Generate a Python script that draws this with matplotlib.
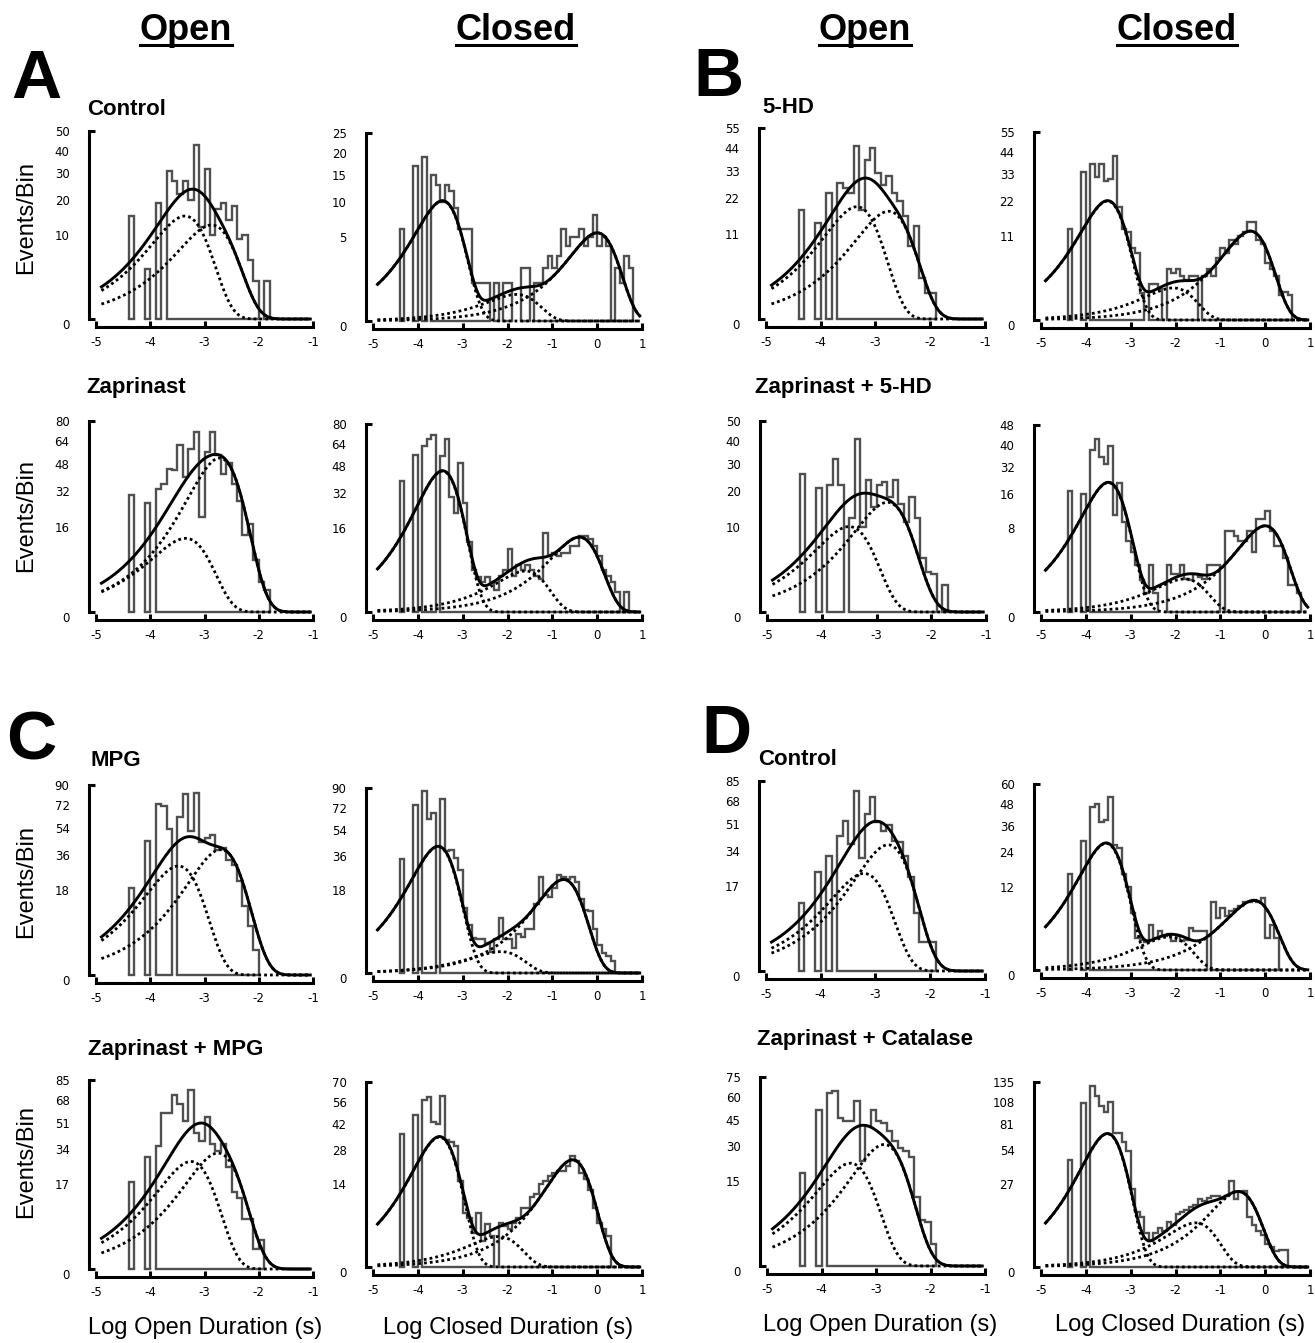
import numpy as np
import matplotlib.pyplot as plt
from matplotlib.lines import Line2D
from matplotlib.ticker import FixedLocator
from matplotlib.transforms import IdentityTransform

plt.rcParams['font.family'] = ['DejaVu Sans']
plt.rcParams['axes.unicode_minus'] = False

# histograms: 0.1 log-unit bins starting at log10(t) = -4.4
bin_start = -4.4
bin_width = 0.1

# fitted components: log10(tau) and peak height (events/bin) of each exponential
# ---- A: Control ----
a_ctrl_open = [15, 0, 0, 3.5, 0, 19, 0, 31, 27, 22, 27, 20, 43, 12, 32, 10, 17, 19, 14, 18,
               9, 10, 5, 2, 0, 2]
a_ctrl_open_tau = [-3.36, -2.87]
a_ctrl_open_peak = [15, 12.5]
a_ctrl_closed = [6, 0, 0, 17, 0, 19, 0, 15, 13, 10, 13, 12, 9, 6, 6, 6, 1, 1, 1, 1,
                 0, 1, 0, 1, 1, 0, 0, 2, 2, 0, 1, 1, 2, 3, 2, 3, 6, 4, 5, 5,
                 6, 4, 5, 8, 4, 5, 4, 0, 2, 1, 3, 2]
a_ctrl_closed_tau = [-3.45, -1.8, 0.0]
a_ctrl_closed_peak = [10.2, 0.5, 5.5]

# ---- A: Zaprinast ----
a_zap_open = [30, 0, 0, 26, 0, 33, 36, 45, 44, 61, 40, 58, 71, 20, 56, 71, 54, 42, 49, 36,
              27, 13, 17, 6, 2, 1.1]
a_zap_open_tau = [-3.35, -2.72]
a_zap_open_peak = [11.9, 52.0]
a_zap_closed = [39, 0, 0, 56, 0, 62, 68, 71, 0, 55, 68, 30, 22, 50, 27, 11, 4, 2.7, 2, 2.8,
                2, 1.1, 3, 4, 9, 3, 5, 4, 5, 4, 3, 2.5, 14, 7, 8, 7, 8, 8, 10, 10,
                13, 13, 12, 10, 7, 4, 3, 2, 0.9, 0, 0.9]
a_zap_closed_tau = [-3.45, -1.6, -0.4]
a_zap_closed_peak = [45, 3.8, 12.7]

# ---- B: 5-HD ----
b_hd_open = [18, 0, 0, 14, 0, 24, 0, 28, 26, 24, 45, 18, 38, 44, 32, 27, 31, 24, 21, 16,
             8, 13, 2.5, 1, 1]
b_hd_open_tau = [-3.34, -2.76]
b_hd_open_peak = [19, 17.5]
b_hd_closed = [13, 0, 0, 34, 0, 38, 32, 38, 30, 31, 42, 20, 13, 12, 8, 7, 1.1, 0, 2, 2,
               1.5, 0, 4, 3.5, 4, 3, 2.5, 3, 3, 0, 3, 4, 3, 6, 8, 7, 10, 9, 11, 12,
               15, 15, 10, 9, 5, 4, 3, 1, 1.2, 1]
b_hd_closed_tau = [-3.52, -2.05, -0.33]
b_hd_closed_peak = [22, 1.6, 12.3]

# ---- B: Zaprinast + 5-HD ----
b_zaphd_open = [26, 0, 0, 21, 0, 22, 32, 22, 0, 12, 41, 10, 24, 15, 22, 23, 18, 24, 16, 11,
                18, 12, 4, 2.2, 2, 0, 1]
b_zaphd_open_tau = [-3.5, -2.8]
b_zaphd_open_peak = [10, 16.5]
b_zaphd_closed = [20, 0, 0, 19, 0, 36, 41, 33, 30, 38, 13, 23, 11, 7, 5, 3, 1.4, 0.5, 3, 0.5,
                  0, 0, 3, 2, 2, 3, 1.5, 1.4, 2, 1.7, 1.5, 3, 3, 3, 0, 9, 9, 8, 7, 7,
                  9, 5, 12, 12, 14, 9, 6, 6, 4, 1, 1, 0.5]
b_zaphd_closed_tau = [-3.5, -1.8, 0.0]
b_zaphd_closed_peak = [23, 1.5, 10.2]

# ---- C: MPG ----
c_mpg_open = [19, 0, 0, 45, 0, 73, 71, 53, 0, 62, 82, 52, 83, 44, 47, 49, 39, 40, 33, 30,
              22, 12, 6, 1.5]
c_mpg_open_tau = [-3.48, -2.70]
c_mpg_open_peak = [29.6, 39.3]
c_mpg_closed = [34, 0, 0, 74, 0, 87, 62, 67, 0, 80, 39, 40, 35, 28, 11, 6, 3.2, 3, 3, 2.3,
                1.2, 3, 8, 3, 3, 1.6, 4, 3.5, 5, 5, 12.6, 24, 16, 15, 19, 25, 24, 23, 24, 22,
                14.5, 10.4, 10, 5, 2, 1, 0.8, 0.4]
c_mpg_closed_tau = [-3.55, -2.15, -0.75]
c_mpg_closed_peak = [42, 1.2, 23]

# ---- C: Zaprinast + MPG ----
c_zapmpg_open = [18, 0, 0, 30, 0, 36, 58, 58, 72, 65, 52, 76, 44, 39, 55, 37, 33, 37, 25, 14,
                 12, 6, 6, 1, 2]
c_zapmpg_open_tau = [-3.25, -2.75]
c_zapmpg_open_peak = [27.5, 32]
c_zapmpg_closed = [36, 0, 0, 47, 0, 57, 59, 43, 42, 60, 33, 32, 30, 15, 6, 5, 2.4, 6, 1.4, 3.7,
                   2, 0, 4, 3.5, 3, 4, 5, 7, 7, 10, 11, 14, 15, 17, 18, 19, 19, 21, 25, 23,
                   18, 16, 12, 7, 4, 3, 2]
c_zapmpg_closed_tau = [-3.52, -2.2, -0.55]
c_zapmpg_closed_peak = [34.5, 1.9, 23.5]

# ---- D: Control ----
d_ctrl_open = [11, 0, 0, 23, 0, 31, 0, 43, 53, 38, 76, 30, 58, 71, 52, 46, 50, 40, 39, 31,
               21, 8, 2, 2, 2]
d_ctrl_open_tau = [-3.21, -2.77]
d_ctrl_open_peak = [22.4, 37.5]
d_ctrl_closed = [16, 0, 0, 29, 0, 46, 48, 38, 39, 52, 27, 26, 16, 12, 5.6, 1.8, 1.6, 1.4, 3.5, 1.8,
                 2.6, 2, 2.2, 1.5, 2, 1.5, 1.6, 3, 2.6, 2.6, 2.6, 0, 8, 4.6, 6.6, 5, 6, 6.5, 7, 8,
                 8, 8.5, 8, 9, 1.8, 3.5, 1.8]
d_ctrl_closed_tau = [-3.55, -2.15, -0.25]
d_ctrl_closed_peak = [27.8, 1.9, 8.4]

# ---- D: Zaprinast + Catalase ----
d_zapcat_open = [18, 0, 0, 51, 0, 63, 64, 46, 44, 44, 57, 23, 41, 51, 44, 43, 38, 33, 29, 28,
                 25, 10, 4.5, 4, 1]
d_zapcat_open_tau = [-3.47, -2.85]
d_zapcat_open_peak = [22.2, 31]
d_zapcat_closed = [45, 0, 0, 106, 0, 129, 115, 102, 95, 108, 71, 71, 62, 53, 24, 12, 10, 4.6, 2.7, 4.6,
                   6, 5, 8, 7, 11, 12, 13, 14, 15, 18, 17, 19, 20, 20, 18, 20, 29, 18, 22, 23,
                   10, 7, 5, 4, 2, 1.5, 1, 1.1, 1.1]
d_zapcat_closed_tau = [-3.52, -1.55, -0.6]
d_zapcat_closed_peak = [70, 7.7, 22.5]

# y-axis top value and tick labels as printed
y_max = [50, 25, 80, 80, 55, 55, 50, 48, 90, 90, 85, 70, 85, 60, 75, 135]
y_labels = [
    [10, 20, 30, 40, 50], [5, 10, 15, 20, 25], [16, 32, 48, 64, 80], [16, 32, 48, 64, 80],
    [11, 22, 33, 44, 55], [11, 22, 33, 44, 55], [10, 20, 30, 40, 50], [8, 16, 32, 40, 48],
    [18, 36, 54, 72, 90], [18, 36, 54, 72, 90], [17, 34, 51, 68, 85], [14, 28, 42, 56, 70],
    [17, 34, 51, 68, 85], [12, 24, 36, 48, 60], [15, 30, 45, 60, 75], [27, 54, 81, 108, 135],
]

panels = [
    (a_ctrl_open, a_ctrl_open_tau, a_ctrl_open_peak, False),
    (a_ctrl_closed, a_ctrl_closed_tau, a_ctrl_closed_peak, True),
    (a_zap_open, a_zap_open_tau, a_zap_open_peak, False),
    (a_zap_closed, a_zap_closed_tau, a_zap_closed_peak, True),
    (b_hd_open, b_hd_open_tau, b_hd_open_peak, False),
    (b_hd_closed, b_hd_closed_tau, b_hd_closed_peak, True),
    (b_zaphd_open, b_zaphd_open_tau, b_zaphd_open_peak, False),
    (b_zaphd_closed, b_zaphd_closed_tau, b_zaphd_closed_peak, True),
    (c_mpg_open, c_mpg_open_tau, c_mpg_open_peak, False),
    (c_mpg_closed, c_mpg_closed_tau, c_mpg_closed_peak, True),
    (c_zapmpg_open, c_zapmpg_open_tau, c_zapmpg_open_peak, False),
    (c_zapmpg_closed, c_zapmpg_closed_tau, c_zapmpg_closed_peak, True),
    (d_ctrl_open, d_ctrl_open_tau, d_ctrl_open_peak, False),
    (d_ctrl_closed, d_ctrl_closed_tau, d_ctrl_closed_peak, True),
    (d_zapcat_open, d_zapcat_open_tau, d_zapcat_open_peak, False),
    (d_zapcat_closed, d_zapcat_closed_tau, d_zapcat_closed_peak, True),
]

# layout in pixels: (x at -5, x at right end, y at top value, y at zero)
layout = [
    (96, 313, 131, 319), (373, 642, 133, 321),
    (96, 313, 421, 612), (373, 642, 424, 612),
    (766, 985, 128, 319), (1041, 1310, 132, 320),
    (767, 986, 421, 612), (1041, 1310, 425, 612),
    (96, 313, 785, 975), (373, 642, 788, 973),
    (96, 313, 1080, 1269), (373, 642, 1082, 1267),
    (766, 985, 781, 971), (1041, 1310, 784, 970),
    (767, 985, 1077, 1266), (1041, 1310, 1082, 1267),
]

W, H = 1315, 1343
HIST = '#505050'
TICK_FS = 8.5

fig = plt.figure(figsize=(W / 100, H / 100), dpi=100)


def draw_panel(ax, counts, taus, peaks, closed, ymax, labels):
    xmax = 1 if closed else -1
    counts = np.asarray(counts, float)
    edges = bin_start + bin_width * np.arange(len(counts) + 1)
    # each run of non-empty bins is outlined as its own closed shape
    n = len(counts)
    i = 0
    while i < n:
        if counts[i] > 0:
            j = i
            while j < n and counts[j] > 0:
                j += 1
            ax.stairs(counts[i:j], edges[i:j + 1], baseline=0, fill=False,
                      color=HIST, lw=1.7, clip_on=False)
            ax.plot([edges[i], edges[j]], [0, 0], color=HIST, lw=1.7, clip_on=False)
            i = j
        else:
            i += 1

    x = np.linspace(-4.9, xmax - 0.05, 400)
    total = np.zeros_like(x)
    for x0, h in zip(taus, peaks):
        r = 10 ** (x - x0)
        comp = h * np.e * r * np.exp(-r)
        total += comp
        ax.plot(x, comp, color='black', lw=2.0, ls=(0, (1, 1.1)), clip_on=False)
    ax.plot(x, total, color='black', lw=2.1, clip_on=False)

    ax.set_yscale('function', functions=(np.sqrt, np.square))
    ax.set_xlim(-5, xmax)
    ax.set_ylim(0, ymax)

    for s in ('top', 'right'):
        ax.spines[s].set_visible(False)
    ax.spines['left'].set_position(('outward', 5))
    ax.spines['bottom'].set_position(('outward', 6))
    ax.spines['left'].set_linewidth(2.2)
    ax.spines['bottom'].set_linewidth(2.2)

    xt = np.arange(-5, xmax + 1)
    ax.set_xticks(xt, [str(v) for v in xt])
    ax.tick_params(axis='x', direction='in', length=4, width=2.2, pad=6, labelsize=TICK_FS)

    ax.set_yticks([ymax * k / 5 for k in range(1, 6)], [str(v) for v in labels])
    ax.tick_params(axis='y', which='major', length=0, pad=14, labelsize=TICK_FS)
    ax.yaxis.remove_overlapping_locs = False
    ax.yaxis.set_minor_locator(FixedLocator([0, ymax]))
    ax.tick_params(axis='y', which='minor', direction='in', length=4, width=2.2)
    ax.annotate('0', xy=(0, 0), xycoords=('axes fraction', 'data'), xytext=(-19, -5),
                textcoords='offset points', ha='right', va='center', fontsize=TICK_FS)
    ax.patch.set_visible(False)


for k, ((counts, taus, peaks, closed), (l, r, t, b)) in enumerate(zip(panels, layout)):
    ax = fig.add_axes([l / W, 1 - b / H, (r - l) / W, (b - t) / H])
    draw_panel(ax, counts, taus, peaks, closed, y_max[k], y_labels[k])

LIB = 'Liberation Sans'


def ftext(x, y, s, **kw):
    return fig.text(x / W, 1 - y / H, s, family=LIB, **kw)


heads = []
for x, s in [(186, 'Open'), (516, 'Closed'), (865, 'Open'), (1177, 'Closed')]:
    heads.append(ftext(x, 40, s, fontsize=26, fontweight='bold', ha='center', va='baseline'))

for x, y, s in [(36, 98, 'A'), (718, 96, 'B'), (31, 759, 'C'), (726, 753, 'D')]:
    ftext(x, y, s, fontsize=50, fontweight='bold', ha='center', va='baseline')

for x, y, s in [(87, 115, 'Control'), (86, 393, 'Zaprinast'), (762, 113, '5-HD'),
                (755, 393, 'Zaprinast + 5-HD'), (90, 766, 'MPG'), (88, 1055, 'Zaprinast + MPG'),
                (758, 765, 'Control'), (757, 1045, 'Zaprinast + Catalase')]:
    ftext(x, y, s, fontsize=16, fontweight='bold', ha='left', va='baseline')

for y in [217, 515, 882, 1162]:
    ftext(26, y, 'Events/Bin', fontsize=17, rotation=90, ha='center', va='center')

for x, y, s in [(205, 1328, 'Log Open Duration (s)'), (508, 1328, 'Log Closed Duration (s)'),
                (880, 1325, 'Log Open Duration (s)'), (1180, 1325, 'Log Closed Duration (s)')]:
    ftext(x, y, s, fontsize=17, ha='center', va='center')

# underline the column headings
fig.canvas.draw()
for t in heads:
    bb = t.get_window_extent()
    fig.add_artist(Line2D([bb.x0, bb.x1], [H - 45, H - 45], transform=IdentityTransform(),
                          color='black', lw=2.2))

fig.savefig('out.png', dpi=100)
plt.close(fig)
